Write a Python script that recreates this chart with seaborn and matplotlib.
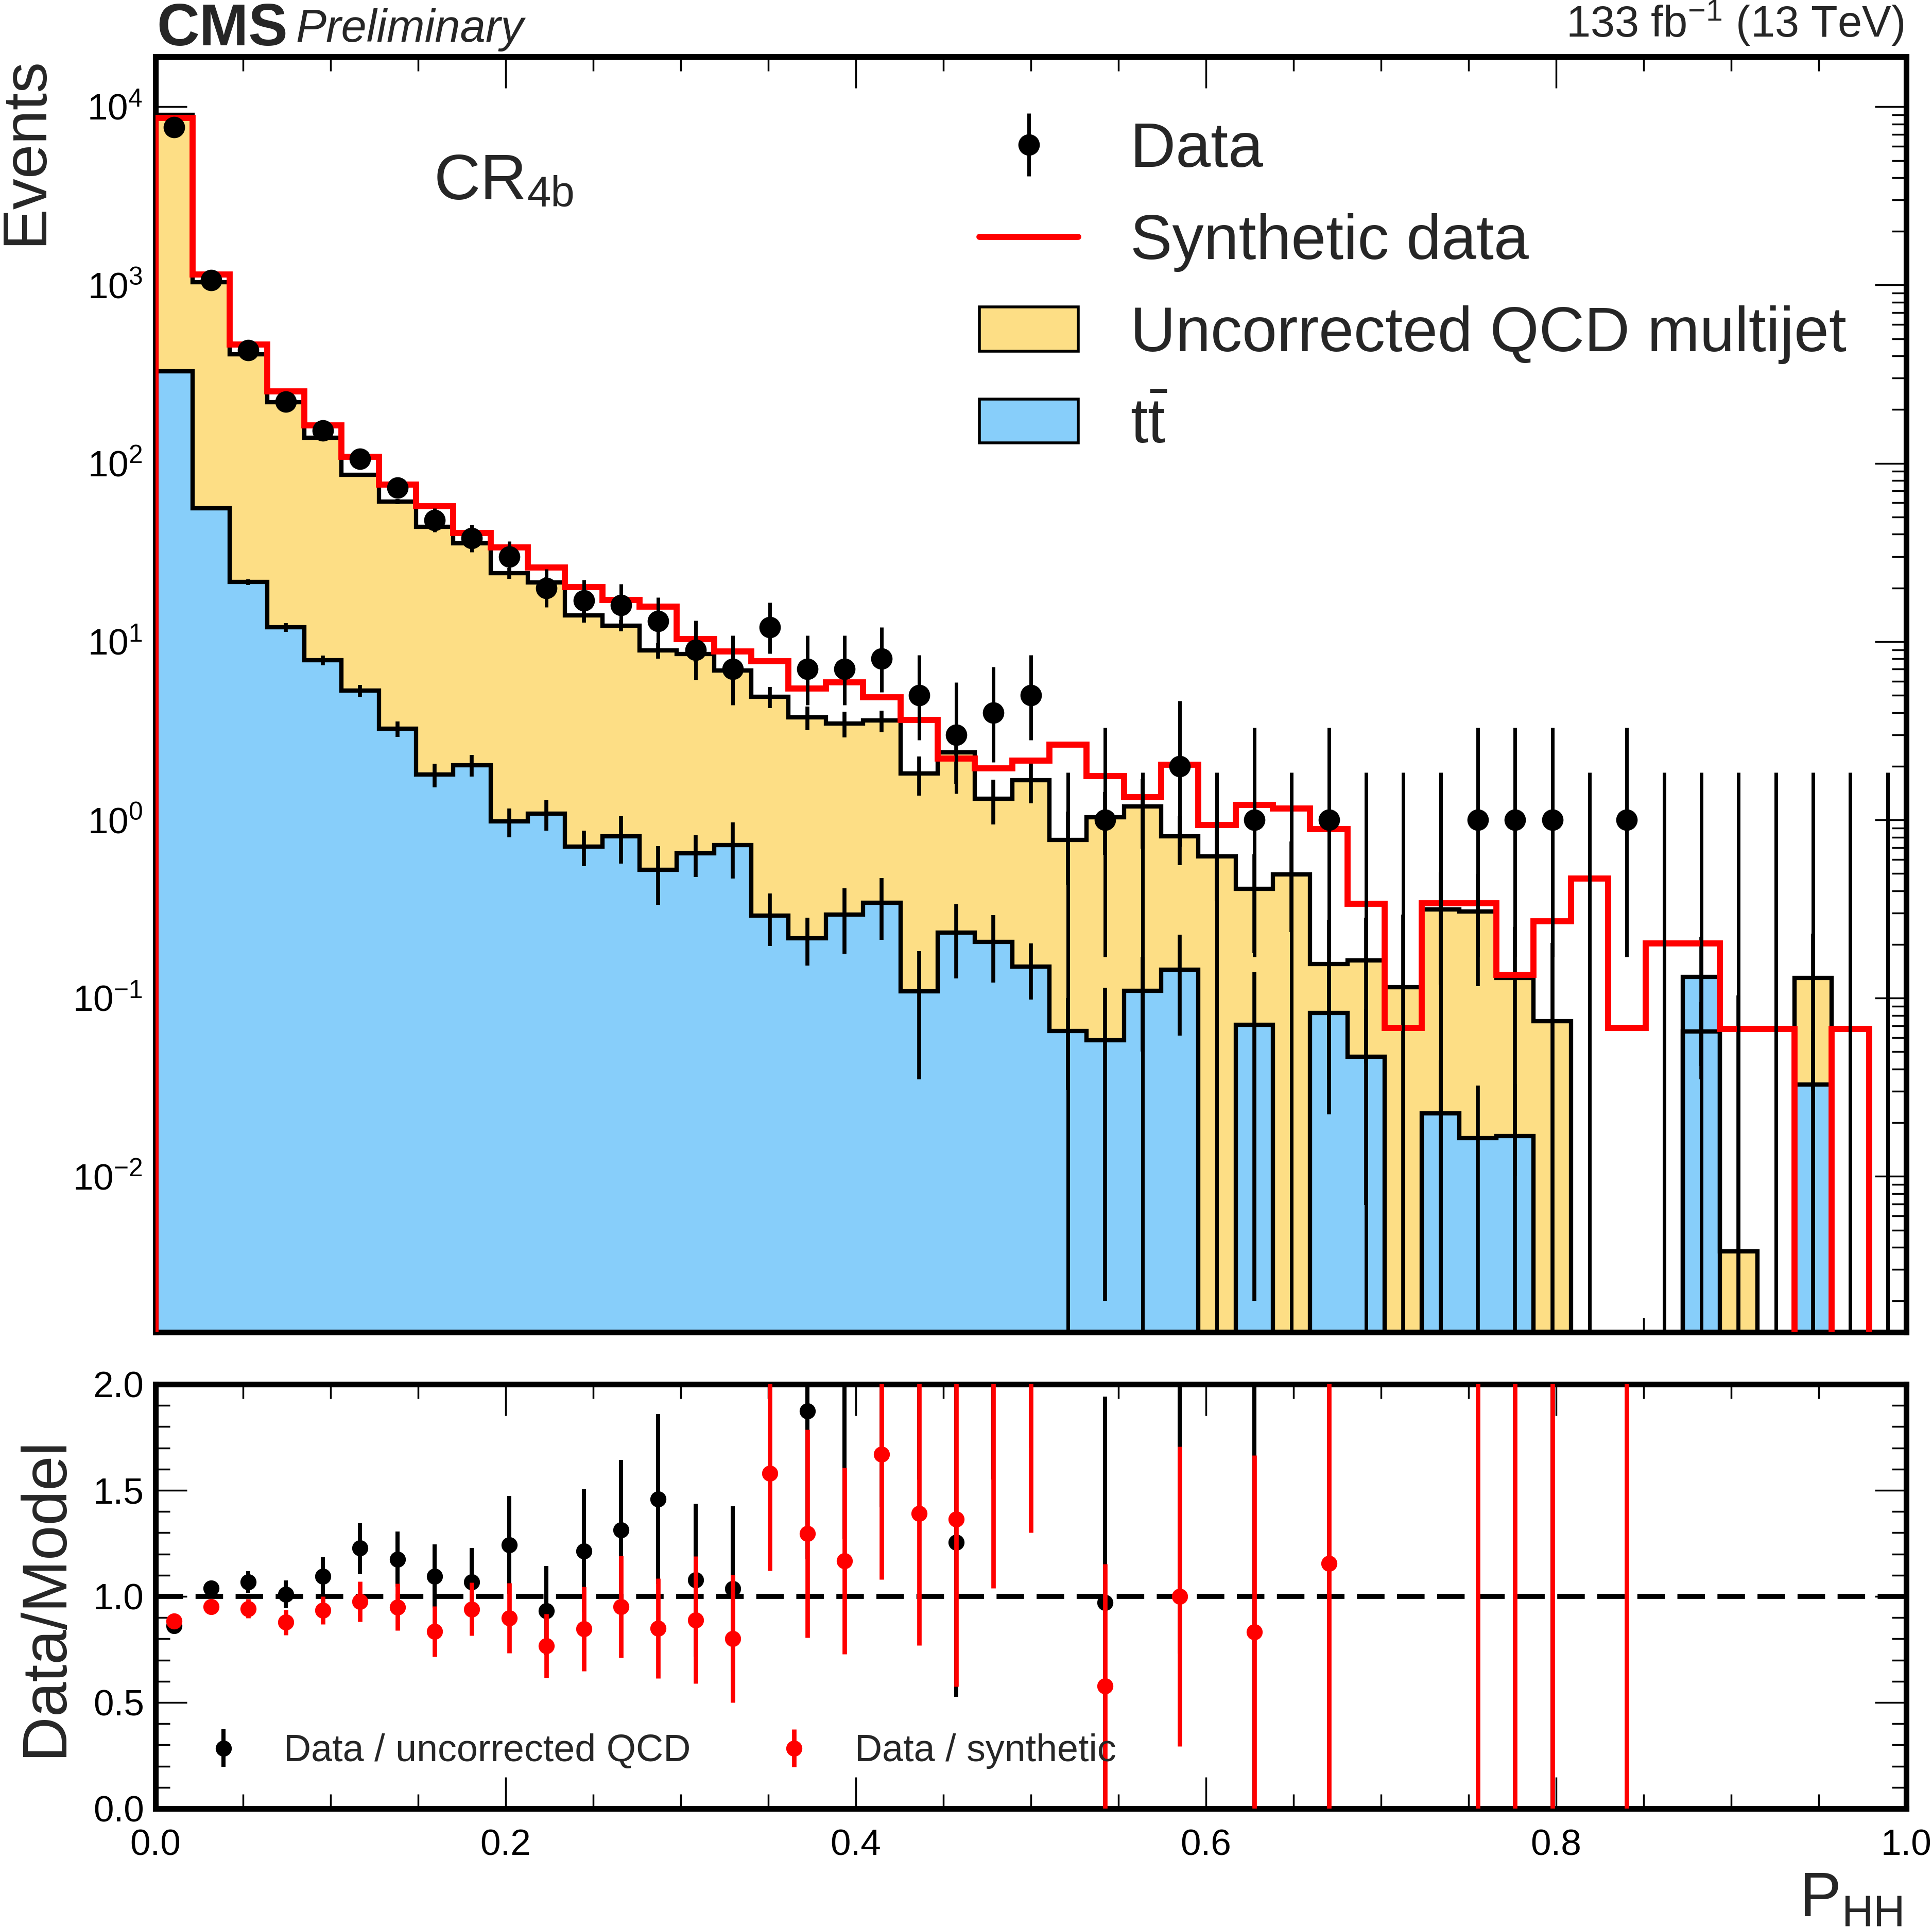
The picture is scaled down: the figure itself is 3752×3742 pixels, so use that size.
import numpy as np
import pandas as pd
import matplotlib
matplotlib.use("Agg")
import matplotlib.pyplot as plt
import seaborn as sns
from matplotlib.ticker import MultipleLocator, LogLocator, NullFormatter, FormatStrFormatter
from matplotlib.lines import Line2D
from matplotlib.patches import Patch

# ---------------- data ----------------
n_bins = 47
bin_edges = np.linspace(0.0, 1.0, n_bins + 1)

data_counts = [7700, 1067, 431, 221, 153, 106, 73, 48, 38, 30, 20, 17, 16, 13, 9, 7,
               12, 7, 7, 8, 5, 3, 4, 5, 0, 1, 0, 2, 0, 1, 0, 1, 0, 0, 0, 1, 1, 1, 0, 1,
               0, 0, 0, 0, 0, 0, 0]
data_err_lo = [87.7, 32.7, 20.8, 14.9, 12.4, 10.3, 8.5, 6.9, 6.2, 5.5, 4.4, 4.1, 4.0, 3.6,
               2.9, 2.6, 3.4, 2.6, 2.6, 2.8, 2.2, 1.6, 1.9, 2.2, 0, 0.83, 0, 1.29, 0, 0.83,
               0, 0.83, 0, 0, 0, 0.83, 0.83, 0.83, 0, 0.83, 0, 0, 0, 0, 0, 0, 0]
data_err_hi = [88.7, 33.7, 21.8, 15.9, 13.4, 11.3, 9.6, 8.0, 7.2, 6.5, 5.5, 5.2, 5.1, 4.7,
               4.1, 3.8, 4.6, 3.8, 3.8, 4.0, 3.4, 2.9, 3.2, 3.4, 1.84, 2.3, 1.84, 2.64, 1.84,
               2.3, 1.84, 2.3, 1.84, 1.84, 1.84, 2.3, 2.3, 2.3, 1.84, 2.3, 1.84, 1.84, 1.84,
               1.84, 1.84, 1.84, 1.84]

# stacked total (uncorrected QCD multijet + ttbar)
total_mc = [9000, 1037, 410, 220, 139, 86, 61, 44, 35.5, 24.2, 21.4, 14.0, 12.3, 8.9, 8.5,
            6.9, 4.9, 3.76, 3.47, 3.6, 1.82, 2.39, 1.31, 1.67, 0.774, 1.036, 1.19, 0.806,
            0.622, 0.409, 0.495, 0.155, 0.163, 0.115, 0.314, 0.307, 0.130, 0.074, 0, 0, 0,
            0.065, 0.0038, 0, 0.130, 0, 0]
total_err = [25, 8, 4, 3, 2.5, 2.2, 1.9, 1.7, 1.6, 1.7, 1.5, 1.2, 0.9, 0.9, 0.8, 0.7, 0.66,
             0.57, 0.58, 0.5, 0.45, 0.8, 0.37, 0.43, 0.34, 0.4, 0.5, 0.25, 0.27, 0.23, 0.26,
             0.12, 0.12, 0.18, 0.195, 0.19, 0.12, 0.13, 0, 0, 0, 0.03, 0.1, 0, 0.1, 0, 0]

ttbar = [329, 56, 21.6, 12.0, 7.86, 5.31, 3.24, 1.79, 2.03, 0.98, 1.08, 0.71, 0.81, 0.524,
         0.648, 0.72, 0.291, 0.217, 0.295, 0.343, 0.109, 0.233, 0.207, 0.150, 0.0654, 0.058,
         0.110, 0.1445, 0, 0.071, 0, 0.0823, 0.0469, 0, 0.0225, 0.0164, 0.0168, 0, 0, 0, 0,
         0.1315, 0, 0, 0.0328, 0, 0]
ttbar_err = [3, 1.5, 0.8, 0.65, 0.5, 0.4, 0.33, 0.27, 0.28, 0.18, 0.21, 0.16, 0.24, 0.19,
             0.17, 0.25, 0.095, 0.065, 0.117, 0.13, 0.074, 0.104, 0.085, 0.052, 0.035, 0.056,
             0.06, 0.083, 0, 0.069, 0, 0.06, 0.04, 0, 0.0224, 0.016, 0.016, 0, 0, 0, 0, 0.09,
             0, 0, 0.032, 0, 0]

synthetic = [8680, 1145, 463, 254, 163, 108.6, 76, 57.5, 40.6, 33.7, 26.1, 20.2, 17.1, 15.7,
             10.3, 8.79, 7.78, 5.46, 5.91, 4.87, 3.64, 2.21, 1.95, 2.15, 2.64, 1.76, 1.34,
             2.04, 0.936, 1.21, 1.16, 0.886, 0.338, 0.068, 0.34, 0.34, 0.135, 0.269, 0.468,
             0.068, 0.202, 0.202, 0.067, 0.067, 0, 0.067, 0]

nan = np.nan
ratio_qcd = [0.862, 1.04, 1.068, 1.01, 1.095, 1.227, 1.175, 1.094, 1.067, 1.243, 0.933, 1.214,
             1.314, 1.459, 1.077, 1.036, 2.45, 1.875, 2.05, 2.2, 2.75, 1.256, 3.05, 3.0, nan,
             0.972, nan, 2.48, nan, 2.44, nan, 6.45, nan, nan, nan, 3.26, 7.7, 13.5, nan, nan,
             nan, nan, nan, nan, nan, nan, nan]
ratio_qcd_err = [0.012, 0.033, 0.05, 0.065, 0.09, 0.12, 0.13, 0.15, 0.16, 0.23, 0.21, 0.29,
                 0.33, 0.40, 0.36, 0.39, 0.69, 0.70, 0.78, 0.78, 1.2, 0.73, 1.5, 1.3, nan,
                 0.97, nan, 1.75, nan, 2.44, nan, 6.45, nan, nan, nan, 3.26, 7.7, 13.5, nan,
                 nan, nan, nan, nan, nan, nan, nan, nan]
ratio_syn = [0.884, 0.952, 0.942, 0.878, 0.935, 0.976, 0.95, 0.835, 0.94, 0.898, 0.767, 0.847,
             0.952, 0.849, 0.889, 0.801, 1.581, 1.297, 1.167, 1.669, 1.39, 1.365, 2.05, 2.33,
             nan, 0.577, nan, 1.0, nan, 0.833, nan, 1.155, nan, nan, nan, 2.94, 7.4, 3.72,
             nan, 14.7, nan, nan, nan, nan, nan, nan, nan]
ratio_syn_err = [0.011, 0.03, 0.045, 0.06, 0.065, 0.095, 0.11, 0.12, 0.125, 0.165, 0.15, 0.2,
                 0.24, 0.235, 0.30, 0.30, 0.46, 0.49, 0.44, 0.59, 0.62, 0.79, 1.01, 1.03, nan,
                 0.577, nan, 0.707, nan, 0.833, nan, 1.155, nan, nan, nan, 2.94, 7.4, 3.72,
                 nan, 14.7, nan, nan, nan, nan, nan, nan, nan]

legend_labels = ["Data", "Synthetic data", "Uncorrected QCD multijet", r"$\mathrm{t\bar{t}}$"]
ratio_labels = ["Data / uncorrected QCD", "Data / synthetic"]

YELLOW = "#FDDE85"
BLUE = "#87CEFA"

# ---------------- style ----------------
sns.set_theme(style="ticks")
plt.rcParams.update({
    "font.family": ["Liberation Sans", "DejaVu Sans"],
    "mathtext.fontset": "custom",
    "mathtext.rm": "Liberation Sans",
    "mathtext.it": "Liberation Sans:italic",
    "mathtext.bf": "Liberation Sans:bold",
    "axes.linewidth": 3.2,
    "axes.edgecolor": "black",
    "xtick.color": "black",
    "ytick.color": "black",
})

DPI = 250
fig = plt.figure(figsize=(3752 / DPI, 3742 / DPI), dpi=DPI)
ax = fig.add_axes([0.08036, 0.30866, 0.9063, 0.66194])
axr = fig.add_axes([0.08036, 0.06146, 0.9063, 0.2202], sharex=ax)

edges = bin_edges
centers = 0.5 * (edges[:-1] + edges[1:])
data_counts = np.array(data_counts, float)
total_mc = np.array(total_mc, float)
ttbar = np.array(ttbar, float)
synthetic = np.array(synthetic, float)

ax.set_yscale("log", nonpositive="clip")

df = pd.DataFrame({"phh": centers, "total": total_mc, "ttbar": ttbar})
edge_list = [float(e) for e in edges]
sns.histplot(data=df, x="phh", weights="total", bins=edge_list, element="step", fill=True,
             color=YELLOW, alpha=1.0, linewidth=0, ax=ax, zorder=1)
sns.histplot(data=df, x="phh", weights="ttbar", bins=edge_list, element="step", fill=True,
             color=BLUE, alpha=1.0, linewidth=0, ax=ax, zorder=2)

ax.stairs(total_mc, edges, color="black", lw=2.4, zorder=3)
ax.stairs(ttbar, edges, color="black", lw=2.4, zorder=3)

m_tot = total_mc > 0
ax.errorbar(centers[m_tot], total_mc[m_tot], yerr=np.array(total_err)[m_tot], fmt="none",
            ecolor="black", elinewidth=2.2, zorder=3)
m_tt = ttbar > 0
ax.errorbar(centers[m_tt], ttbar[m_tt], yerr=np.array(ttbar_err)[m_tt], fmt="none",
            ecolor="black", elinewidth=2.2, zorder=3)

ax.stairs(synthetic, edges, color="red", lw=3.4, zorder=4)

data_h = ax.errorbar(centers, data_counts, yerr=[data_err_lo, data_err_hi], fmt="o",
                     color="black", ms=11, elinewidth=2.0, capsize=0, zorder=5)

ax.set_xlim(0, 1)
ax.set_ylim(1.336e-3, 1.91e4)
ax.yaxis.set_major_locator(LogLocator(base=10, numticks=20))
ax.yaxis.set_minor_locator(LogLocator(base=10, subs=np.arange(2, 10), numticks=200))
ax.yaxis.set_minor_formatter(NullFormatter())
ax.xaxis.set_major_locator(MultipleLocator(0.2))
ax.xaxis.set_minor_locator(MultipleLocator(0.05))
ax.tick_params(labelbottom=False)
ax.set_xlabel("")

handles = [data_h,
           Line2D([], [], color="red", lw=3.4),
           Patch(facecolor=YELLOW, edgecolor="black", lw=1.6),
           Patch(facecolor=BLUE, edgecolor="black", lw=1.6)]
ax.legend(handles, legend_labels, loc="upper left", bbox_to_anchor=(0.4707, 0.9495),
          fontsize=35.2, frameon=False, handlelength=1.57, handletextpad=0.83,
          labelspacing=0.53, borderpad=0, borderaxespad=0)

cr = ax.text(0.1592, 0.888, "CR", transform=ax.transAxes, fontsize=36, va="baseline",
             ha="left")
ax.annotate("4b", xy=(1, 0), xycoords=cr, xytext=(0.0, 3.8), textcoords="offset points",
            fontsize=24, va="baseline", ha="left")

ax.set_ylabel("Events", fontsize=34.5, loc="top")
ax.yaxis.set_label_coords(-0.0648, 1.0)
ax.yaxis.label.set_va("baseline")

# ---------------- ratio panel ----------------
axr.axhline(1.0, color="black", lw=2.8, ls=(0, (5.5, 2.5)), zorder=1.5)
axr.errorbar(centers, ratio_qcd, yerr=ratio_qcd_err, fmt="o", color="black", ms=8,
             elinewidth=2.3, capsize=0, label=ratio_labels[0], zorder=3)
axr.errorbar(centers, ratio_syn, yerr=ratio_syn_err, fmt="o", color="red", ms=8,
             elinewidth=2.5, capsize=0, label=ratio_labels[1], zorder=4)
axr.set_ylim(0, 2)
axr.set_xlim(0, 1)
axr.yaxis.set_major_locator(MultipleLocator(0.5))
axr.yaxis.set_minor_locator(MultipleLocator(0.1))
axr.yaxis.set_major_formatter(FormatStrFormatter("%.1f"))
axr.xaxis.set_major_formatter(FormatStrFormatter("%.1f"))
axr.legend(loc="center left", bbox_to_anchor=(0.0172, 0.135), ncol=2, fontsize=21.2,
           frameon=False, handlelength=2.0, handletextpad=0.6, columnspacing=1.72,
           borderpad=0, borderaxespad=0)

axr.set_ylabel("Data/Model", fontsize=35, loc="center")
axr.yaxis.set_label_coords(-0.0533, 0.5)
axr.yaxis.label.set_va("baseline")
axr.set_xlabel(r"$\mathrm{P_{HH}}$", fontsize=35, loc="right")
axr.xaxis.set_label_coords(0.9977, -0.2549)
axr.xaxis.label.set_va("baseline")

for a in (ax, axr):
    a.tick_params(which="both", direction="in", top=True, right=True, width=1.0,
                  colors="black")
    a.tick_params(which="major", length=17.5, labelsize=20.5)
    a.tick_params(which="minor", length=8)
    for s in a.spines.values():
        s.set_linewidth(3.2)
        s.set_color("black")
ax.tick_params(axis="y", pad=7)
axr.tick_params(axis="y", pad=6.3)
axr.tick_params(axis="x", pad=11.5)

# ---------------- header ----------------
fig.text(304 / 3752, 1 - 88 / 3742, "CMS", fontsize=33, fontweight="bold",
         ha="left", va="baseline")
fig.text(574 / 3752, 1 - 81 / 3742, "Preliminary", fontsize=25.5, style="italic",
         ha="left", va="baseline")
fig.text(3697 / 3752, 1 - 72 / 3742, r"133 fb$^{-1}$ (13 TeV)", fontsize=24.4,
         ha="right", va="baseline")

fig.savefig("out.png", dpi=DPI)
